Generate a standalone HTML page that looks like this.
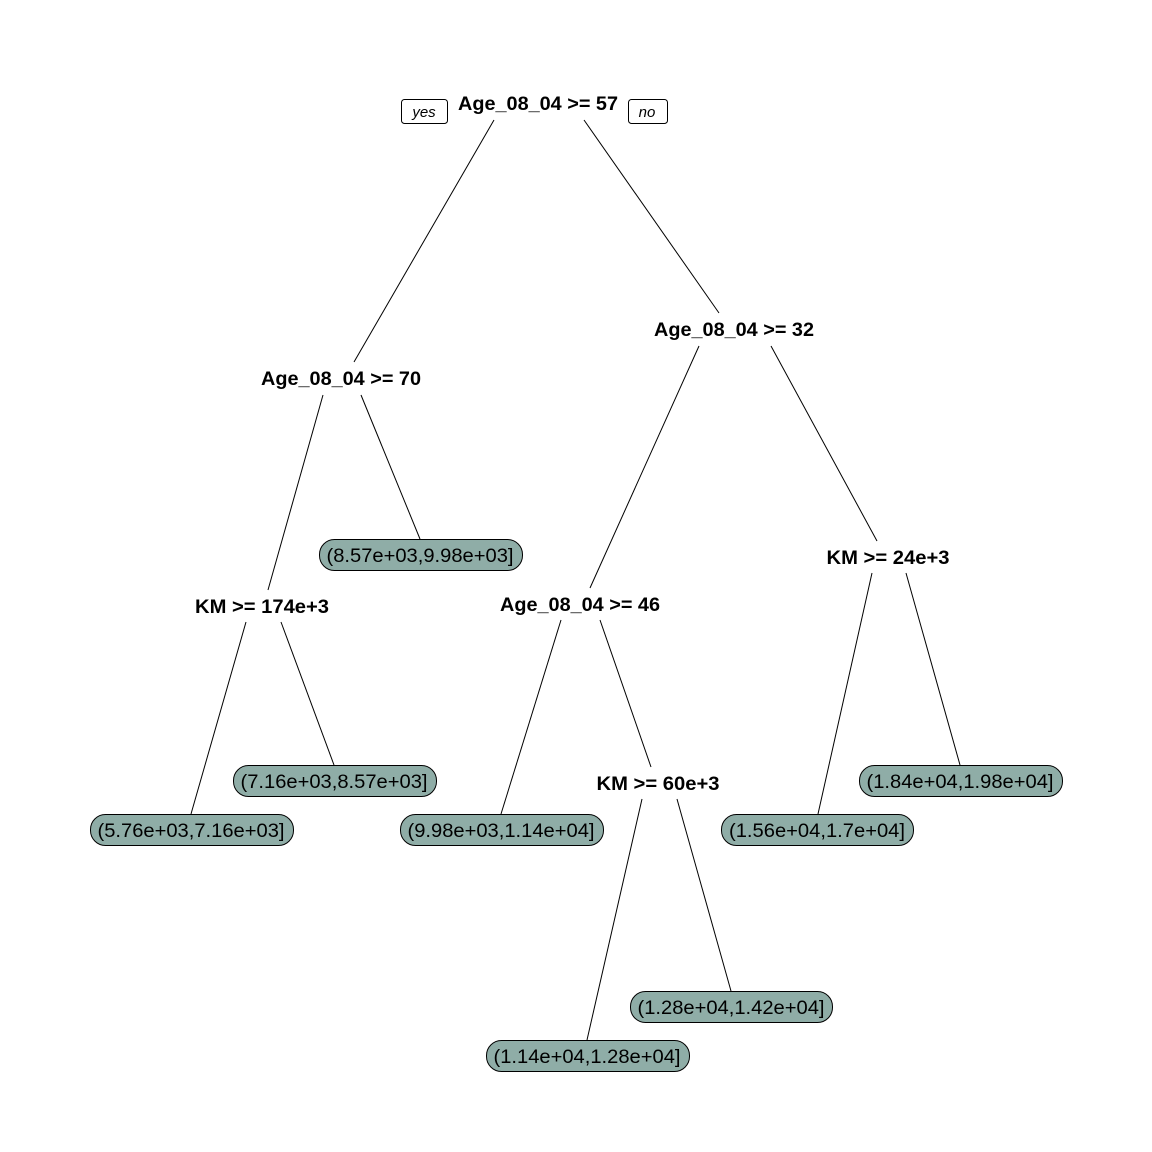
<!DOCTYPE html>
<html><head><meta charset="utf-8"><style>html,body{margin:0;padding:0;background:#fff}svg{display:block}</style></head>
<body>
<svg width="1152" height="1152" viewBox="0 0 1152 1152" xmlns="http://www.w3.org/2000/svg" font-family="Liberation Sans, Arial, sans-serif">
<g stroke="#000" stroke-width="1" fill="none">
<line x1="494" y1="120" x2="354" y2="362"/>
<line x1="584" y1="120" x2="719" y2="313"/>
<line x1="323" y1="395" x2="268" y2="590"/>
<line x1="361" y1="395" x2="420" y2="539"/>
<line x1="699" y1="346" x2="590" y2="588"/>
<line x1="771" y1="346" x2="877" y2="541"/>
<line x1="246" y1="622" x2="191" y2="814"/>
<line x1="281" y1="622" x2="334" y2="765"/>
<line x1="561" y1="620" x2="501" y2="814"/>
<line x1="600" y1="620" x2="651" y2="767"/>
<line x1="872" y1="573" x2="818" y2="814"/>
<line x1="906" y1="573" x2="960" y2="765"/>
<line x1="642" y1="799" x2="587" y2="1040"/>
<line x1="677" y1="799" x2="731" y2="991"/>
</g>
<g stroke="#000" stroke-width="1" fill="#fff">
<rect x="401.5" y="99.5" width="46" height="24" rx="3"/>
<rect x="628.5" y="99.5" width="39" height="24" rx="3"/>
</g>
<g font-size="15" font-style="italic" text-anchor="middle">
<text x="424" y="117">yes</text>
<text x="647" y="117">no</text>
</g>
<g font-size="19" font-weight="bold" text-anchor="middle" lengthAdjust="spacingAndGlyphs">
<text x="538" y="110" textLength="160" lengthAdjust="spacingAndGlyphs">Age_08_04 &gt;= 57</text>
<text x="734" y="336" textLength="160" lengthAdjust="spacingAndGlyphs">Age_08_04 &gt;= 32</text>
<text x="341" y="385" textLength="160" lengthAdjust="spacingAndGlyphs">Age_08_04 &gt;= 70</text>
<text x="262" y="613" textLength="134" lengthAdjust="spacingAndGlyphs">KM &gt;= 174e+3</text>
<text x="580" y="611" textLength="160" lengthAdjust="spacingAndGlyphs">Age_08_04 &gt;= 46</text>
<text x="888" y="564" textLength="123" lengthAdjust="spacingAndGlyphs">KM &gt;= 24e+3</text>
<text x="658" y="790" textLength="123" lengthAdjust="spacingAndGlyphs">KM &gt;= 60e+3</text>
</g>
<g stroke="#000" stroke-width="1" fill="#8fada7">
<rect x="319.5" y="539.5" width="203" height="31" rx="15"/>
<rect x="233.5" y="765.5" width="203" height="31" rx="15"/>
<rect x="90.5" y="814.5" width="203" height="31" rx="15"/>
<rect x="400.5" y="814.5" width="203" height="31" rx="15"/>
<rect x="630.5" y="991.5" width="202" height="31" rx="15"/>
<rect x="486.5" y="1040.5" width="203" height="31" rx="15"/>
<rect x="721.5" y="814.5" width="192" height="31" rx="15"/>
<rect x="859.5" y="765.5" width="203" height="31" rx="15"/>
</g>
<g font-size="19" text-anchor="middle" fill="#000">
<text x="420" y="562" textLength="187" lengthAdjust="spacingAndGlyphs">(8.57e+03,9.98e+03]</text>
<text x="334" y="788" textLength="187" lengthAdjust="spacingAndGlyphs">(7.16e+03,8.57e+03]</text>
<text x="191" y="837" textLength="187" lengthAdjust="spacingAndGlyphs">(5.76e+03,7.16e+03]</text>
<text x="501" y="837" textLength="187" lengthAdjust="spacingAndGlyphs">(9.98e+03,1.14e+04]</text>
<text x="731" y="1014" textLength="187" lengthAdjust="spacingAndGlyphs">(1.28e+04,1.42e+04]</text>
<text x="587" y="1063" textLength="187" lengthAdjust="spacingAndGlyphs">(1.14e+04,1.28e+04]</text>
<text x="817" y="837" textLength="176" lengthAdjust="spacingAndGlyphs">(1.56e+04,1.7e+04]</text>
<text x="960" y="788" textLength="187" lengthAdjust="spacingAndGlyphs">(1.84e+04,1.98e+04]</text>
</g>
</svg>
</body></html>
